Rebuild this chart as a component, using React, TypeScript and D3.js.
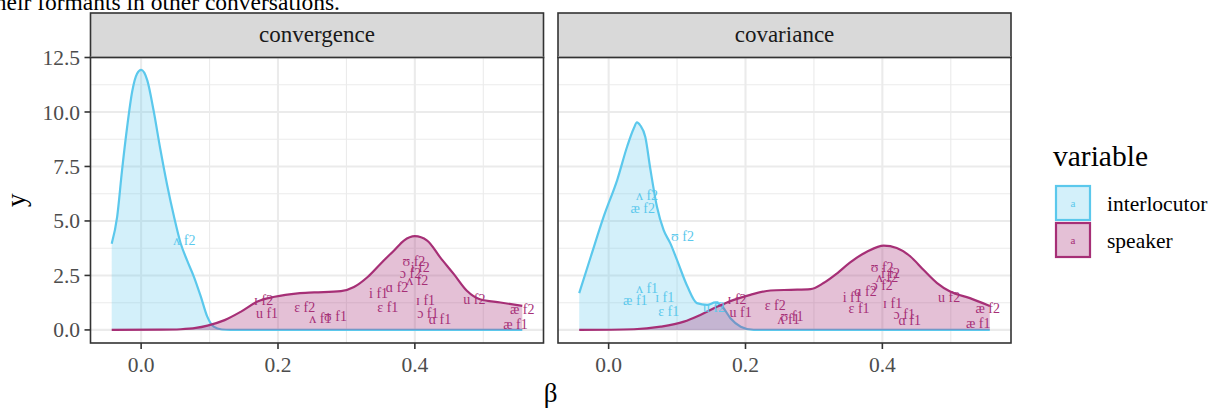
import React from "react";
import * as d3 from "d3";

// ---------- data ----------
const panelNames = ["convergence", "covariance"];
const variables = ["interlocutor", "speaker"];

const convergenceInterlocutor: [number, number][] = [
  [-0.043, 3.95], [-0.035, 5.2], [-0.028, 7.3], [-0.0205, 9.3], [-0.013, 10.95],
  [-0.006, 11.75], [0.0, 11.93], [0.009, 11.45], [0.018, 10.1], [0.028, 8.3],
  [0.038, 6.65], [0.048, 5.2], [0.0575, 4.0], [0.067, 3.2], [0.077, 2.45],
  [0.087, 1.55], [0.0965, 0.62], [0.106, 0.15], [0.118, 0.02], [0.13, 0.0], [0.557, 0.0],
];
const convergenceSpeaker: [number, number][] = [
  [-0.043, 0.0], [0.03, 0.01], [0.058, 0.03], [0.08, 0.09], [0.097, 0.2], [0.122, 0.45],
  [0.146, 0.84], [0.17, 1.3], [0.195, 1.52], [0.229, 1.68], [0.253, 1.72], [0.292, 1.78],
  [0.311, 1.97], [0.331, 2.43], [0.35, 3.04], [0.37, 3.66], [0.384, 4.1], [0.4, 4.3],
  [0.418, 4.1], [0.437, 3.33], [0.457, 2.56], [0.476, 1.8], [0.495, 1.41], [0.525, 1.26],
  [0.557, 1.1],
];
const covarianceInterlocutor: [number, number][] = [
  [-0.043, 1.69], [-0.026, 3.37], [-0.007, 5.22], [0.0127, 6.9], [0.0273, 8.44],
  [0.0365, 9.23], [0.0414, 9.52], [0.0463, 9.38], [0.0536, 8.85], [0.061, 7.37],
  [0.0707, 5.64], [0.0804, 4.58], [0.0902, 3.97], [0.1, 3.2], [0.115, 2.0], [0.129, 1.23],
  [0.144, 1.15], [0.156, 1.26], [0.166, 1.07], [0.178, 0.54], [0.193, 0.15], [0.212, 0.0],
  [0.557, 0.0],
];
const covarianceSpeaker: [number, number][] = [
  [-0.043, 0.0], [0.037, 0.03], [0.076, 0.15], [0.11, 0.38], [0.134, 0.69], [0.159, 1.07],
  [0.183, 1.38], [0.207, 1.61], [0.2365, 1.81], [0.266, 1.84], [0.295, 1.87], [0.314, 2.15],
  [0.334, 2.6], [0.353, 3.1], [0.378, 3.6], [0.402, 3.87], [0.421, 3.76], [0.441, 3.37],
  [0.46, 2.76], [0.48, 2.15], [0.499, 1.76], [0.528, 1.46], [0.557, 1.1],
];

// labels: [text, variable, beta, y]
const convergenceLabels: [string, string, number, number][] = [
  ["ʌ f2", "interlocutor", 0.0633, 4.12],
  ["ʊ f2", "speaker", 0.3986, 3.17],
  ["i f2", "speaker", 0.408, 2.87],
  ["ɔ f2", "speaker", 0.3937, 2.62],
  ["ʌ f2", "speaker", 0.4035, 2.29],
  ["ɑ f2", "speaker", 0.374, 1.98],
  ["i f1", "speaker", 0.347, 1.71],
  ["ɛ f1", "speaker", 0.3605, 1.07],
  ["ɪ f1", "speaker", 0.4157, 1.37],
  ["ɔ f1", "speaker", 0.419, 0.79],
  ["ɑ f1", "speaker", 0.4366, 0.49],
  ["u f2", "speaker", 0.487, 1.4],
  ["æ f2", "speaker", 0.557, 0.95],
  ["æ f1", "speaker", 0.547, 0.27],
  ["ɪ f2", "speaker", 0.179, 1.37],
  ["u f1", "speaker", 0.184, 0.76],
  ["ɛ f2", "speaker", 0.239, 1.07],
  ["ʌ f1", "speaker", 0.262, 0.53],
  ["ʊ f1", "speaker", 0.284, 0.64],
];
const covarianceLabels: [string, string, number, number][] = [
  ["ʌ f2", "interlocutor", 0.0561, 6.18],
  ["æ f2", "interlocutor", 0.0497, 5.57],
  ["ʊ f2", "interlocutor", 0.108, 4.3],
  ["ʌ f1", "interlocutor", 0.0561, 1.94],
  ["æ f1", "interlocutor", 0.039, 1.37],
  ["ɪ f1", "interlocutor", 0.0819, 1.52],
  ["ɛ f1", "interlocutor", 0.0877, 0.87],
  ["u f2", "interlocutor", 0.154, 1.07],
  ["ʊ f2", "speaker", 0.3997, 2.87],
  ["i f2", "speaker", 0.412, 2.62],
  ["ʌ f2", "speaker", 0.407, 2.41],
  ["ɔ f2", "speaker", 0.3997, 2.06],
  ["ɑ f2", "speaker", 0.3753, 1.78],
  ["i f1", "speaker", 0.356, 1.5],
  ["ɛ f1", "speaker", 0.366, 0.99],
  ["ɪ f1", "speaker", 0.415, 1.22],
  ["ɔ f1", "speaker", 0.432, 0.73],
  ["ɑ f1", "speaker", 0.44, 0.46],
  ["u f2", "speaker", 0.4976, 1.5],
  ["æ f2", "speaker", 0.554, 0.99],
  ["æ f1", "speaker", 0.54, 0.31],
  ["ɪ f2", "speaker", 0.1877, 1.4],
  ["u f1", "speaker", 0.193, 0.84],
  ["ɛ f2", "speaker", 0.2435, 1.14],
  ["ʌ f1", "speaker", 0.263, 0.49],
  ["ʊ f1", "speaker", 0.268, 0.65],
];

const xTicks = [0, 0.2, 0.4];
const xTickLabels = ["0.0", "0.2", "0.4"];
const xMinor = [0.1, 0.3, 0.5];
const yTicks = [0, 2.5, 5, 7.5, 10, 12.5];
const yTickLabels = ["0.0", "2.5", "5.0", "7.5", "10.0", "12.5"];
const yMinor = [1.25, 3.75, 6.25, 8.75, 11.25];

// ---------- style ----------
const FONT = "'Liberation Serif', 'Times New Roman', 'DejaVu Serif', serif";
const COLORS: Record<string, string> = { interlocutor: "#5BC8EC", speaker: "#A62F76" };
const FILL_OPACITY: Record<string, number> = { interlocutor: 0.27, speaker: 0.3 };

const W = 1209;
const H = 410;
const PANEL_TOP = 57.5;
const PANEL_BOTTOM = 343;
const PANEL_W = 453;
const PANEL_LEFTS = [90.5, 558];
const STRIP_TOP = 13;

export default function App() {
  const x = d3.scaleLinear().domain([-0.074, 0.588]).range([0, PANEL_W]);
  const y = d3.scaleLinear().domain([-0.6, 12.5]).range([PANEL_BOTTOM - PANEL_TOP, 0]);
  const area = d3
    .area<[number, number]>()
    .x((d) => x(d[0]))
    .y0(() => y(0))
    .y1((d) => y(d[1]))
    .curve(d3.curveMonotoneX);
  const line = d3
    .line<[number, number]>()
    .x((d) => x(d[0]))
    .y((d) => y(d[1]))
    .curve(d3.curveMonotoneX);

  const densities = [
    { interlocutor: convergenceInterlocutor, speaker: convergenceSpeaker },
    { interlocutor: covarianceInterlocutor, speaker: covarianceSpeaker },
  ];
  const labels = [convergenceLabels, covarianceLabels];
  const ph = PANEL_BOTTOM - PANEL_TOP;

  return (
    <svg
      width={W}
      height={H}
      style={{ position: "absolute", left: 0, top: 0, background: "#fff", fontFamily: FONT }}
    >
      <rect x={0} y={0} width={W} height={H} fill="#fff" />
      {/* cropped running text from the document above */}
      <text x={340} y={9.5} fontSize={23.5} textAnchor="end" fill="#000">
        their formants in other conversations.
      </text>

      {panelNames.map((name, pi) => {
        const left = PANEL_LEFTS[pi];
        return (
          <g key={name}>
            {/* strip */}
            <rect
              x={left}
              y={STRIP_TOP}
              width={PANEL_W}
              height={PANEL_TOP - STRIP_TOP}
              fill="#D9D9D9"
              stroke="#333333"
              strokeWidth={1.6}
            />
            <text
              x={left + PANEL_W / 2}
              y={41.5}
              fontSize={23}
              textAnchor="middle"
              fill="#1A1A1A"
            >
              {name}
            </text>
            <g transform={`translate(${left},${PANEL_TOP})`}>
              <rect x={0} y={0} width={PANEL_W} height={ph} fill="#fff" />
              {yMinor.map((v) => (
                <line key={"ym" + v} x1={0} x2={PANEL_W} y1={y(v)} y2={y(v)} stroke="#EBEBEB" strokeWidth={1.1} />
              ))}
              {xMinor.map((v) => (
                <line key={"xm" + v} y1={0} y2={ph} x1={x(v)} x2={x(v)} stroke="#EBEBEB" strokeWidth={1.1} />
              ))}
              {yTicks.map((v) => (
                <line key={"yM" + v} x1={0} x2={PANEL_W} y1={y(v)} y2={y(v)} stroke="#EBEBEB" strokeWidth={2.1} />
              ))}
              {xTicks.map((v) => (
                <line key={"xM" + v} y1={0} y2={ph} x1={x(v)} x2={x(v)} stroke="#EBEBEB" strokeWidth={2.1} />
              ))}
              {variables.map((v) => {
                const data = (densities[pi] as any)[v] as [number, number][];
                return (
                  <g key={v}>
                    <path d={area(data) || ""} fill={COLORS[v]} fillOpacity={FILL_OPACITY[v]} stroke="none" />
                    <path d={line(data) || ""} fill="none" stroke={COLORS[v]} strokeWidth={2.2} />
                  </g>
                );
              })}
              {labels[pi].map(([t, v, bx, by], i) => (
                <text
                  key={i}
                  x={x(bx)}
                  y={y(by)}
                  dy="0.35em"
                  fontSize={14}
                  textAnchor="middle"
                  fill={COLORS[v]}
                >
                  {t}
                </text>
              ))}
              <rect x={0} y={0} width={PANEL_W} height={ph} fill="none" stroke="#333333" strokeWidth={1.6} />
            </g>
            {/* x axis */}
            {xTicks.map((v, i) => (
              <g key={"xt" + v}>
                <line
                  x1={left + x(v)}
                  x2={left + x(v)}
                  y1={PANEL_BOTTOM}
                  y2={PANEL_BOTTOM + 6}
                  stroke="#333333"
                  strokeWidth={1.6}
                />
                <text x={left + x(v)} y={372} fontSize={21.5} textAnchor="middle" fill="#4D4D4D">
                  {xTickLabels[i]}
                </text>
              </g>
            ))}
          </g>
        );
      })}

      {/* y axis (left panel only) */}
      {yTicks.map((v, i) => (
        <g key={"yt" + v}>
          <line
            x1={PANEL_LEFTS[0] - 6}
            x2={PANEL_LEFTS[0]}
            y1={PANEL_TOP + y(v)}
            y2={PANEL_TOP + y(v)}
            stroke="#333333"
            strokeWidth={1.6}
          />
          <text x={80} y={PANEL_TOP + y(v)} dy="0.35em" fontSize={21.5} textAnchor="end" fill="#4D4D4D">
            {yTickLabels[i]}
          </text>
        </g>
      ))}

      {/* axis titles */}
      <text x={550.5} y={402} fontSize={27} textAnchor="middle" fill="#000">
        β
      </text>
      <text
        transform={`translate(25,${(PANEL_TOP + PANEL_BOTTOM) / 2}) rotate(-90)`}
        fontSize={27}
        textAnchor="middle"
        fill="#000"
      >
        y
      </text>

      {/* legend */}
      <text x={1053} y={166} fontSize={29.5} fill="#000">
        variable
      </text>
      {variables.map((v, i) => {
        const ky = 186 + i * 37;
        return (
          <g key={"lg" + v}>
            <rect x={1056} y={ky} width={34} height={34} fill="#fff" />
            <rect
              x={1056}
              y={ky}
              width={34}
              height={34}
              fill={COLORS[v]}
              fillOpacity={FILL_OPACITY[v]}
              stroke={COLORS[v]}
              strokeWidth={2.2}
            />
            <text x={1073} y={ky + 17} dy="0.35em" fontSize={11} textAnchor="middle" fill={COLORS[v]}>
              a
            </text>
            <text x={1107} y={ky + 17} dy="0.35em" fontSize={21.5} fill="#000">
              {v}
            </text>
          </g>
        );
      })}
    </svg>
  );
}
